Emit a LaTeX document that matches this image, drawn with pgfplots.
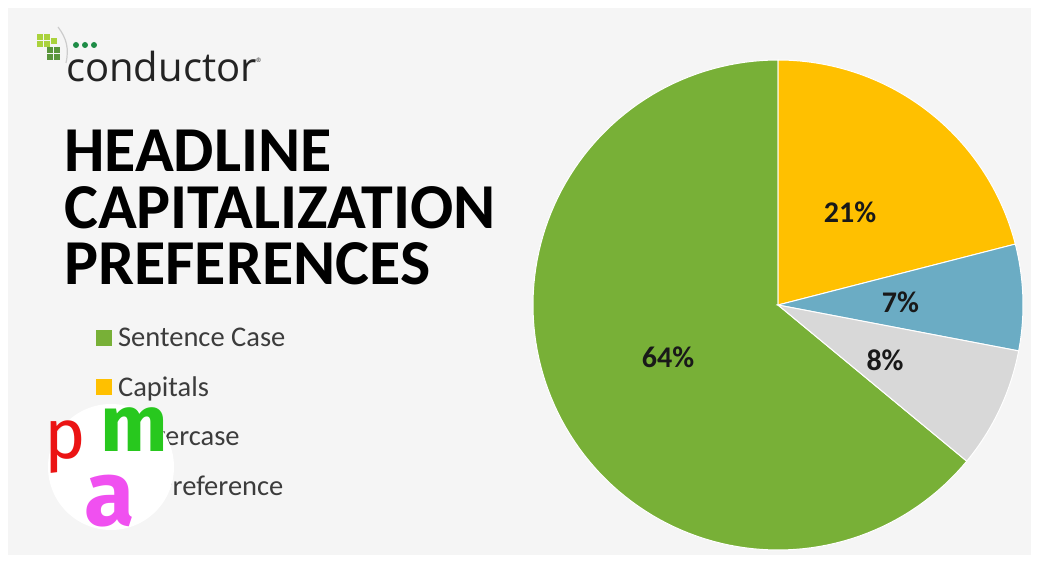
\documentclass[border=0pt]{standalone}
\usepackage{pgfplots}
\pgfplotsset{compat=1.18}
\usepackage{pgfplotstable}
\usepackage{fontspec}
\setmainfont{Carlito}
\newfontfamily\logofont{Open Sans}
\newfontfamily\pmafont{Fira Sans}

\definecolor{sentgreen}{RGB}{120,176,55}
\definecolor{capyellow}{RGB}{255,192,0}
\definecolor{lowblue}{RGB}{107,172,196}
\definecolor{nogray}{RGB}{216,216,216}
\definecolor{slidebg}{RGB}{245,245,245}
\definecolor{legtext}{RGB}{60,60,60}
\definecolor{labtext}{RGB}{25,25,25}
\definecolor{logogray}{RGB}{35,35,35}
\definecolor{lime}{RGB}{170,210,60}
\definecolor{leaf}{RGB}{90,150,60}
\definecolor{dotgreen}{RGB}{30,140,70}
\definecolor{pmared}{RGB}{235,20,20}
\definecolor{pmagreen}{RGB}{40,200,30}
\definecolor{pmapink}{RGB}{240,80,240}

% share of each answer, in percent
\pgfplotstableread[col sep=comma]{
label,value
Sentence Case,64
Capitals,21
Lowercase,7
No Preference,8
}\piedata

\pgfplotstablegetelem{0}{value}\of\piedata \let\vSent\pgfplotsretval
\pgfplotstablegetelem{1}{value}\of\piedata \let\vCap\pgfplotsretval
\pgfplotstablegetelem{2}{value}\of\piedata \let\vLow\pgfplotsretval
\pgfplotstablegetelem{3}{value}\of\piedata \let\vNo\pgfplotsretval

% slices run clockwise from the top: capitals, lowercase, no preference, sentence case
\pgfmathsetmacro\aCapEnd{90-3.6*\vCap}
\pgfmathsetmacro\aLowEnd{\aCapEnd-3.6*\vLow}
\pgfmathsetmacro\aNoEnd{\aLowEnd-3.6*\vNo}
\pgfmathsetmacro\aSentEnd{\aNoEnd-3.6*\vSent}

\begin{document}
\begin{tikzpicture}[x=1pt,y=1pt]
\useasboundingbox (0,0) rectangle (1039,563);
\fill[white] (0,0) rectangle (1039,563);
\fill[slidebg] (8,8) rectangle (1031,555);

% conductor logo
\foreach \px/\py in {37/523,44/523,37/516,44/516,51/519}
  \fill[lime] (\px,\py) rectangle ++(6,6);
\foreach \px/\py in {47/510,54/510,47/503,54/503}
  \fill[leaf] (\px,\py) rectangle ++(6,6);
\draw[gray!40, line width=1.2pt] (58,536) to[bend left=25] (66,500);
\foreach \px in {76,85,94}
  \fill[dotgreen] (\px,518) circle (3);
\node[anchor=base west, inner sep=0, text=logogray, font=\logofont\fontsize{40}{44}\selectfont] at (66,481) {conductor};
\node[anchor=west, inner sep=0, text=logogray, font=\logofont\fontsize{6}{7}\selectfont] at (256,503) {\textregistered};

% title
\begin{scope}[every node/.style={anchor=base west, inner sep=0, text=black, font=\bfseries\fontsize{64}{70}\selectfont}]
\node at (64,391) {HEADLINE};
\node at (64,334) {CAPITALIZATION};
\node at (64,278) {PREFERENCES};
\end{scope}

\begin{axis}[
  at={(533pt,13pt)}, anchor=south west,
  scale only axis, width=490pt, height=490pt,
  xmin=-1, xmax=1, ymin=-1, ymax=1,
  hide axis, clip=false,
  legend image code/.code={\fill[#1, draw=none] (0pt,-8pt) rectangle (16pt,8pt);},
  legend cell align=left,
  legend style={draw=none, fill=none, inner sep=0pt,
    at={(-0.892,0.458)}, anchor=north west,
    font=\fontsize{28.5}{32}\selectfont, text=legtext,
    row sep=25pt,
    /tikz/every odd column/.append style={column sep=4pt}},
]
\addplot[fill=sentgreen, draw=white, line width=1pt, domain=\aSentEnd:\aNoEnd, samples=120]
  ({cos(x)},{sin(x)}) -- (axis cs:0,0) -- cycle;
\addlegendentry{Sentence Case}
\addplot[fill=capyellow, draw=white, line width=1pt, domain=\aCapEnd:90, samples=60]
  ({cos(x)},{sin(x)}) -- (axis cs:0,0) -- cycle;
\addlegendentry{Capitals}
\addplot[fill=lowblue, draw=white, line width=1pt, domain=\aLowEnd:\aCapEnd, samples=30]
  ({cos(x)},{sin(x)}) -- (axis cs:0,0) -- cycle;
\addlegendentry{Lowercase}
\addplot[fill=nogray, draw=white, line width=1pt, domain=\aNoEnd:\aLowEnd, samples=30]
  ({cos(x)},{sin(x)}) -- (axis cs:0,0) -- cycle;
\addlegendentry{No Preference}

\begin{scope}[every node/.style={text=labtext, font=\bfseries\fontsize{30}{34}\selectfont}]
\node at (axis cs:0.294,0.38) {21\%};
\node at (axis cs:0.50,0.01) {7\%};
\node at (axis cs:0.437,-0.224) {8\%};
\node at (axis cs:-0.449,-0.212) {64\%};
\end{scope}
\end{axis}

% pma watermark
\fill[white] (111,96) circle (63);
\node[text=pmared, inner sep=0, font=\pmafont\fontsize{70}{74}\selectfont] at (65,116) {p};
\node[text=pmagreen, inner sep=0, font=\pmafont\bfseries\fontsize{80}{84}\selectfont] at (134,133) {m};
\node[text=pmapink, inner sep=0, font=\pmafont\bfseries\fontsize{92}{100}\selectfont] at (110,62) {a};
\end{tikzpicture}
\end{document}
